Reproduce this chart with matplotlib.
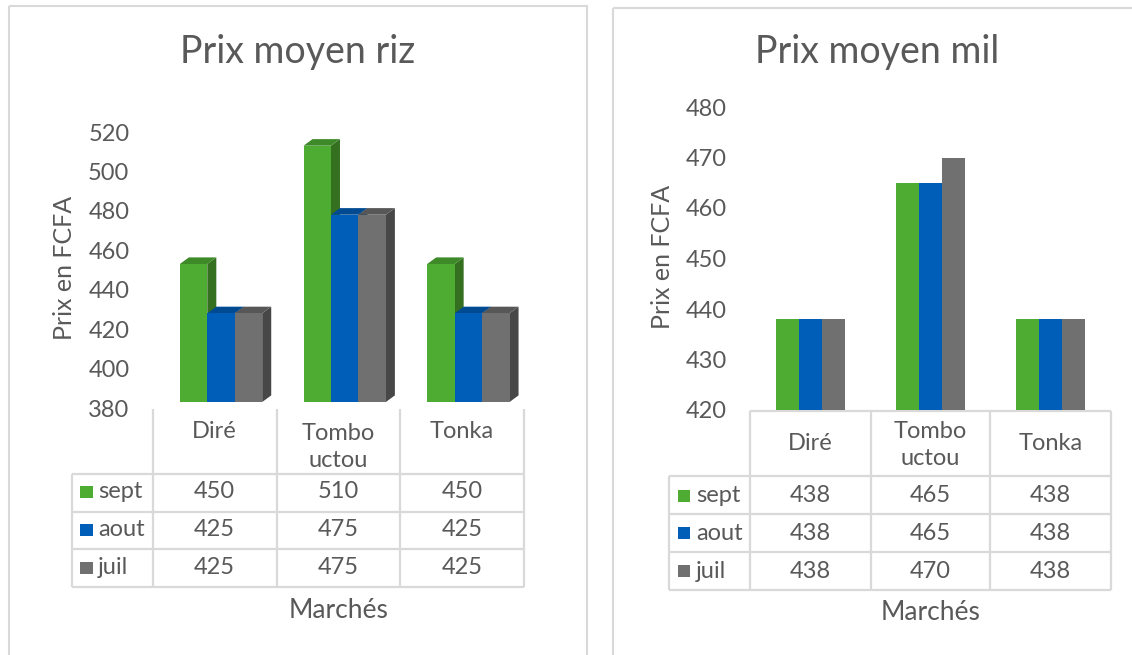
import matplotlib
matplotlib.use('Agg')
import matplotlib.pyplot as plt
from matplotlib.patches import Polygon, Rectangle
from matplotlib.transforms import ScaledTranslation

plt.rcParams['font.family'] = ['Lato', 'DejaVu Sans']

# ---------------- data ----------------
markets = ['Diré', 'Tombo\nuctou', 'Tonka']
series = ['sept', 'aout', 'juil']
riz_sept = [450, 510, 450]
riz_aout = [425, 475, 425]
riz_juil = [425, 475, 425]
mil_sept = [438, 465, 438]
mil_aout = [438, 465, 438]
mil_juil = [438, 470, 438]
riz_ticks = [380, 400, 420, 440, 460, 480, 500, 520]
mil_ticks = [420, 430, 440, 450, 460, 470, 480]
title_riz = 'Prix moyen riz'
title_mil = 'Prix moyen mil'
ylabel = 'Prix en FCFA'
xlabel = 'Marchés'

# ---------------- style ----------------
W, H = 1132, 655
TXT = '#595959'
GRID = '#D9D9D9'
FS = 17
front = ['#4EAC33', '#005EB8', '#707070']
topc = ['#3E8A28', '#004A92', '#575757']
sidec = ['#357020', '#003F7D', '#474747']

fig = plt.figure(figsize=(W / 100, H / 100), dpi=100)
fig.patch.set_facecolor('white')

bg = fig.add_axes([0, 0, 1, 1])
bg.set_xlim(0, W)
bg.set_ylim(H, 0)
bg.axis('off')
bg.set_zorder(-1)


def px_axes(x0, y0, x1, y1):
    a = fig.add_axes([x0 / W, 1 - y1 / H, (x1 - x0) / W, (y1 - y0) / H])
    a.patch.set_alpha(0)
    return a


# chart frames
bg.add_patch(Rectangle((9, 6), 578, 700, fill=False, ec=GRID, lw=1.5))
bg.add_patch(Rectangle((612.5, 7.5), 600, 700, fill=False, ec=GRID, lw=1.5))


def style_axis(ax, ticks, pad):
    ax.set_yticks(ticks)
    ax.set_yticklabels([str(t) for t in ticks], fontsize=FS, color=TXT)
    ax.tick_params(axis='y', length=0, pad=pad)
    ax.set_xticks([])
    for s in ax.spines.values():
        s.set_visible(False)


def draw_table(col_edges, leg_left, header_top, row_lines, header_y, row_y,
               values, sq_x, txt_x, top_line):
    kw = dict(color=GRID, lw=1.6, solid_capstyle='butt')
    if top_line:
        bg.plot([col_edges[0], col_edges[-1]], [header_top, header_top], **kw)
    for x in col_edges:
        bg.plot([x, x], [header_top, row_lines[-1]], **kw)
    bg.plot([leg_left, leg_left], [row_lines[0], row_lines[-1]], **kw)
    for y in row_lines:
        bg.plot([leg_left, col_edges[-1]], [y, y], **kw)
    centers = [(col_edges[i] + col_edges[i + 1]) / 2 for i in range(len(markets))]
    for c, m, hy in zip(centers, markets, header_y):
        bg.text(c, hy, m, ha='center', va='center', fontsize=FS, color=TXT,
                linespacing=1.3)
    for r, (name, vals) in enumerate(zip(series, values)):
        y = row_y[r]
        bg.add_patch(Rectangle((sq_x, y - 6.5), 12.5, 12.5, color=front[r], lw=0))
        bg.text(txt_x, y, name, ha='left', va='center', fontsize=FS, color=TXT)
        for c, v in zip(centers, vals):
            bg.text(c, y, str(v), ha='center', va='center', fontsize=FS, color=TXT)


# ================= LEFT: riz (3D look) =================
axL = px_axes(153, 126, 524, 402)
axL.set_xlim(-0.5, 2.5)
axL.set_ylim(riz_ticks[0], riz_ticks[-1])
style_axis(axL, riz_ticks, 17)
off = ScaledTranslation(0, -6 / 100, fig.dpi_scale_trans)
for lbl in axL.get_yticklabels():
    lbl.set_transform(lbl.get_transform() + off)

riz_vals = [riz_sept, riz_aout, riz_juil]
bw = 0.222
shift = 0.05
dx = 0.073
dy = 3.35
base = riz_ticks[0]
for i in range(len(markets)):
    for j, vals in enumerate(riz_vals):
        v = vals[i]
        x0 = i + shift + (j - 1) * bw - bw / 2
        x1 = x0 + bw
        axL.add_patch(Polygon([(x1, base), (x1 + dx, base + dy), (x1 + dx, v + dy), (x1, v)],
                              closed=True, fc=sidec[j], ec='none', clip_on=False))
        axL.add_patch(Polygon([(x0, v), (x1, v), (x1 + dx, v + dy), (x0 + dx, v + dy)],
                              closed=True, fc=topc[j], ec='none', clip_on=False))
        axL.bar(x0, v - base, bottom=base, width=bw, align='edge', color=front[j],
                lw=0, clip_on=False)

bg.text(298, 52, title_riz, ha='center', va='center', fontsize=27, color=TXT)
bg.text(64, 268, ylabel, ha='center', va='center', rotation=90, fontsize=18, color=TXT)
bg.text(339, 610, xlabel, ha='center', va='center', fontsize=19, color=TXT)
draw_table([153, 276.5, 400, 524], 71.5, 408.5, [474, 512, 549, 587],
           [432, 447, 432], [492, 530, 568], riz_vals, 80, 98, False)

# ================= RIGHT: mil =================
axR = px_axes(750.3, 107, 1110.7, 410)
axR.set_xlim(-0.5, 2.5)
axR.set_ylim(mil_ticks[0], mil_ticks[-1])
style_axis(axR, mil_ticks, 17)

mil_vals = [mil_sept, mil_aout, mil_juil]
bw2 = 0.19
for j, vals in enumerate(mil_vals):
    xs = [i + (j - 1) * bw2 for i in range(len(markets))]
    axR.bar(xs, [v - mil_ticks[0] for v in vals], bottom=mil_ticks[0], width=bw2,
            color=front[j], lw=0)

bg.text(877, 52, title_mil, ha='center', va='center', fontsize=27, color=TXT)
bg.text(663, 257, ylabel, ha='center', va='center', rotation=90, fontsize=18, color=TXT)
bg.text(931, 612, xlabel, ha='center', va='center', fontsize=19, color=TXT)
draw_table([750.3, 870.8, 990.2, 1110.7], 669, 411, [476, 513.8, 552, 590],
           [443, 445, 443], [496, 533.4, 571], mil_vals, 677.5, 696, True)

fig.savefig('out.png', dpi=100, facecolor='white')
